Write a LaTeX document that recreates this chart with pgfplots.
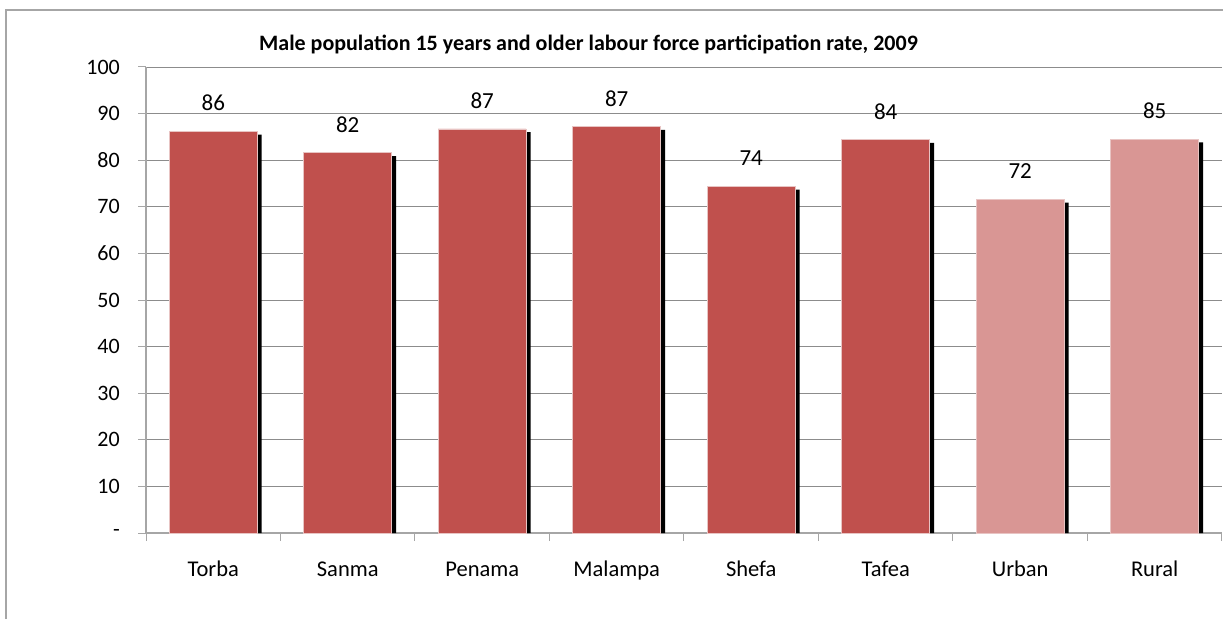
\documentclass[border=0pt]{standalone}
\usepackage{fontspec}
\setmainfont{Carlito}
\usepackage{pgfplots}
\usepackage{pgfplotstable}
\pgfplotsset{compat=1.18}
\definecolor{darkbar}{HTML}{C0504D}
\definecolor{lightbar}{HTML}{D99694}
\definecolor{bedge}{HTML}{E8C4C3}
\definecolor{gridc}{HTML}{8C8C8C}
\definecolor{axc}{HTML}{A6A6A6}
\pgfplotstableread{
x y sh lab
0 86.2 85.5 86
1 81.6 80.9 82
2 86.7 86.0 87
3 87.2 86.5 87
4 74.4 73.7 74
5 84.4 83.7 84
}\dataA
\pgfplotstableread{
x y sh lab
6 71.6 70.9 72
7 84.5 83.8 85
}\dataB
\begin{document}
\begin{tikzpicture}
\useasboundingbox (0,0) rectangle (1223pt,619pt);
\draw[axc, line width=1.5pt] (6pt,0) -- (6pt,609pt) -- (1223pt,609pt);
\node[font=\fontsize{22}{26}\selectfont\bfseries, anchor=base, inner sep=0pt] at (588.5pt,568pt) {Male population 15 years and older labour force participation rate, 2009};
\begin{axis}[
  at={(146pt,86pt)}, anchor=south west,
  scale only axis, width=1076pt, height=466pt,
  xmin=-0.5, xmax=7.5, ymin=0, ymax=100,
  axis x line*=bottom, axis y line*=left,
  axis line style={axc, line width=1.2pt, -},
  xtick={0,...,7},
  xticklabels={Torba,Sanma,Penama,Malampa,Shefa,Tafea,Urban,Rural},
  major x tick style={draw=none},
  minor xtick={-0.5,0.5,...,7.5},
  minor tick length=8pt,
  minor x tick style={axc, line width=1pt},
  ytick={0,10,...,100},
  yticklabels={-,10,20,30,40,50,60,70,80,90,100},
  major tick length=8pt,
  tick align=outside,
  y tick style={axc, line width=1pt},
  ymajorgrids, major grid style={gridc, line width=0.8pt},
  xticklabel style={font=\fontsize{22.5}{26}\selectfont, anchor=base, inner sep=0pt, yshift=-35pt},
  yticklabel style={font=\fontsize{22}{25}\selectfont, anchor=east, inner sep=0pt, xshift=-18pt},
  /pgf/number format/assume math mode=true,
]
\addplot[ybar, bar width=88pt, bar shift=4.5pt, fill=black, draw=none] table[x=x, y=sh] {\dataA};
\addplot[ybar, bar width=88pt, bar shift=4.5pt, fill=black, draw=none] table[x=x, y=sh] {\dataB};
\addplot[ybar, bar width=88pt, bar shift=0pt, fill=darkbar, draw=bedge, line width=0.8pt,
  point meta=explicit symbolic, nodes near coords,
  every node near coord/.append style={font=\fontsize{23}{26}\selectfont, black, anchor=south, inner sep=0pt, yshift=20pt}]
  table[x=x, y=y, meta=lab] {\dataA};
\addplot[ybar, bar width=88pt, bar shift=0pt, fill=lightbar, draw=bedge, line width=0.8pt,
  point meta=explicit symbolic, nodes near coords,
  every node near coord/.append style={font=\fontsize{23}{26}\selectfont, black, anchor=south, inner sep=0pt, yshift=20pt}]
  table[x=x, y=y, meta=lab] {\dataB};
\end{axis}
\end{tikzpicture}
\end{document}
